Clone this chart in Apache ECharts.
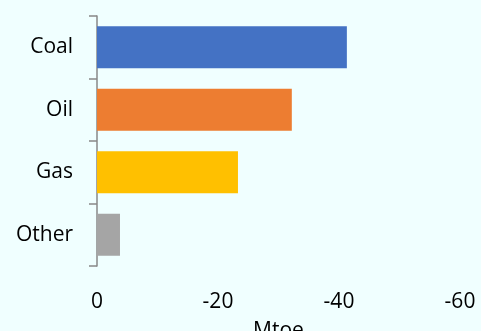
<!DOCTYPE html>
<html>
<head>
<meta charset="utf-8">
<script src="https://cdn.jsdelivr.net/npm/echarts@6/dist/echarts.min.js"></script>
<style>
html,body{margin:0;padding:0;background:#F0FFFF;}
#c{width:481px;height:331px;}
</style>
</head>
<body>
<div id="c"></div>
<script>
const categories = ['Coal', 'Oil', 'Gas', 'Other'];
const values = [-41.3, -32.2, -23.3, -3.8];
const colors = ['#4472C4', '#ED7D31', '#FFC000', '#A5A5A5'];
const xTicks = { min: -60, max: 0, interval: 20 };
const axisName = 'Mtoe';

const chart = echarts.init(document.getElementById('c'));
chart.setOption({
  backgroundColor: '#F0FFFF',
  animation: false,
  grid: { left: 97, right: 21, top: 16, bottom: 65, containLabel: false, outerBoundsMode: 'none' },
  xAxis: {
    type: 'value',
    inverse: true,
    min: xTicks.min,
    max: xTicks.max,
    interval: xTicks.interval,
    name: axisName,
    nameLocation: 'middle',
    nameGap: 55,
    nameTextStyle: { fontFamily: 'Open Sans', fontSize: 21, color: '#000' },
    axisLine: { show: false },
    axisTick: { show: false },
    splitLine: { show: false },
    axisLabel: { fontFamily: 'Open Sans', fontSize: 21, color: '#000', margin: 26 }
  },
  yAxis: {
    type: 'category',
    inverse: true,
    data: categories,
    axisLine: { show: true, lineStyle: { color: '#888', width: 1.5 } },
    axisTick: { show: true, length: 8, lineStyle: { color: '#888', width: 1.5 } },
    axisLabel: { fontFamily: 'Open Sans', fontSize: 21, color: '#000', margin: 24 }
  },
  series: [{
    type: 'bar',
    barCategoryGap: '33%',
    data: values.map((v, i) => ({ value: v, itemStyle: { color: colors[i] } }))
  }]
});
</script>
</body>
</html>
